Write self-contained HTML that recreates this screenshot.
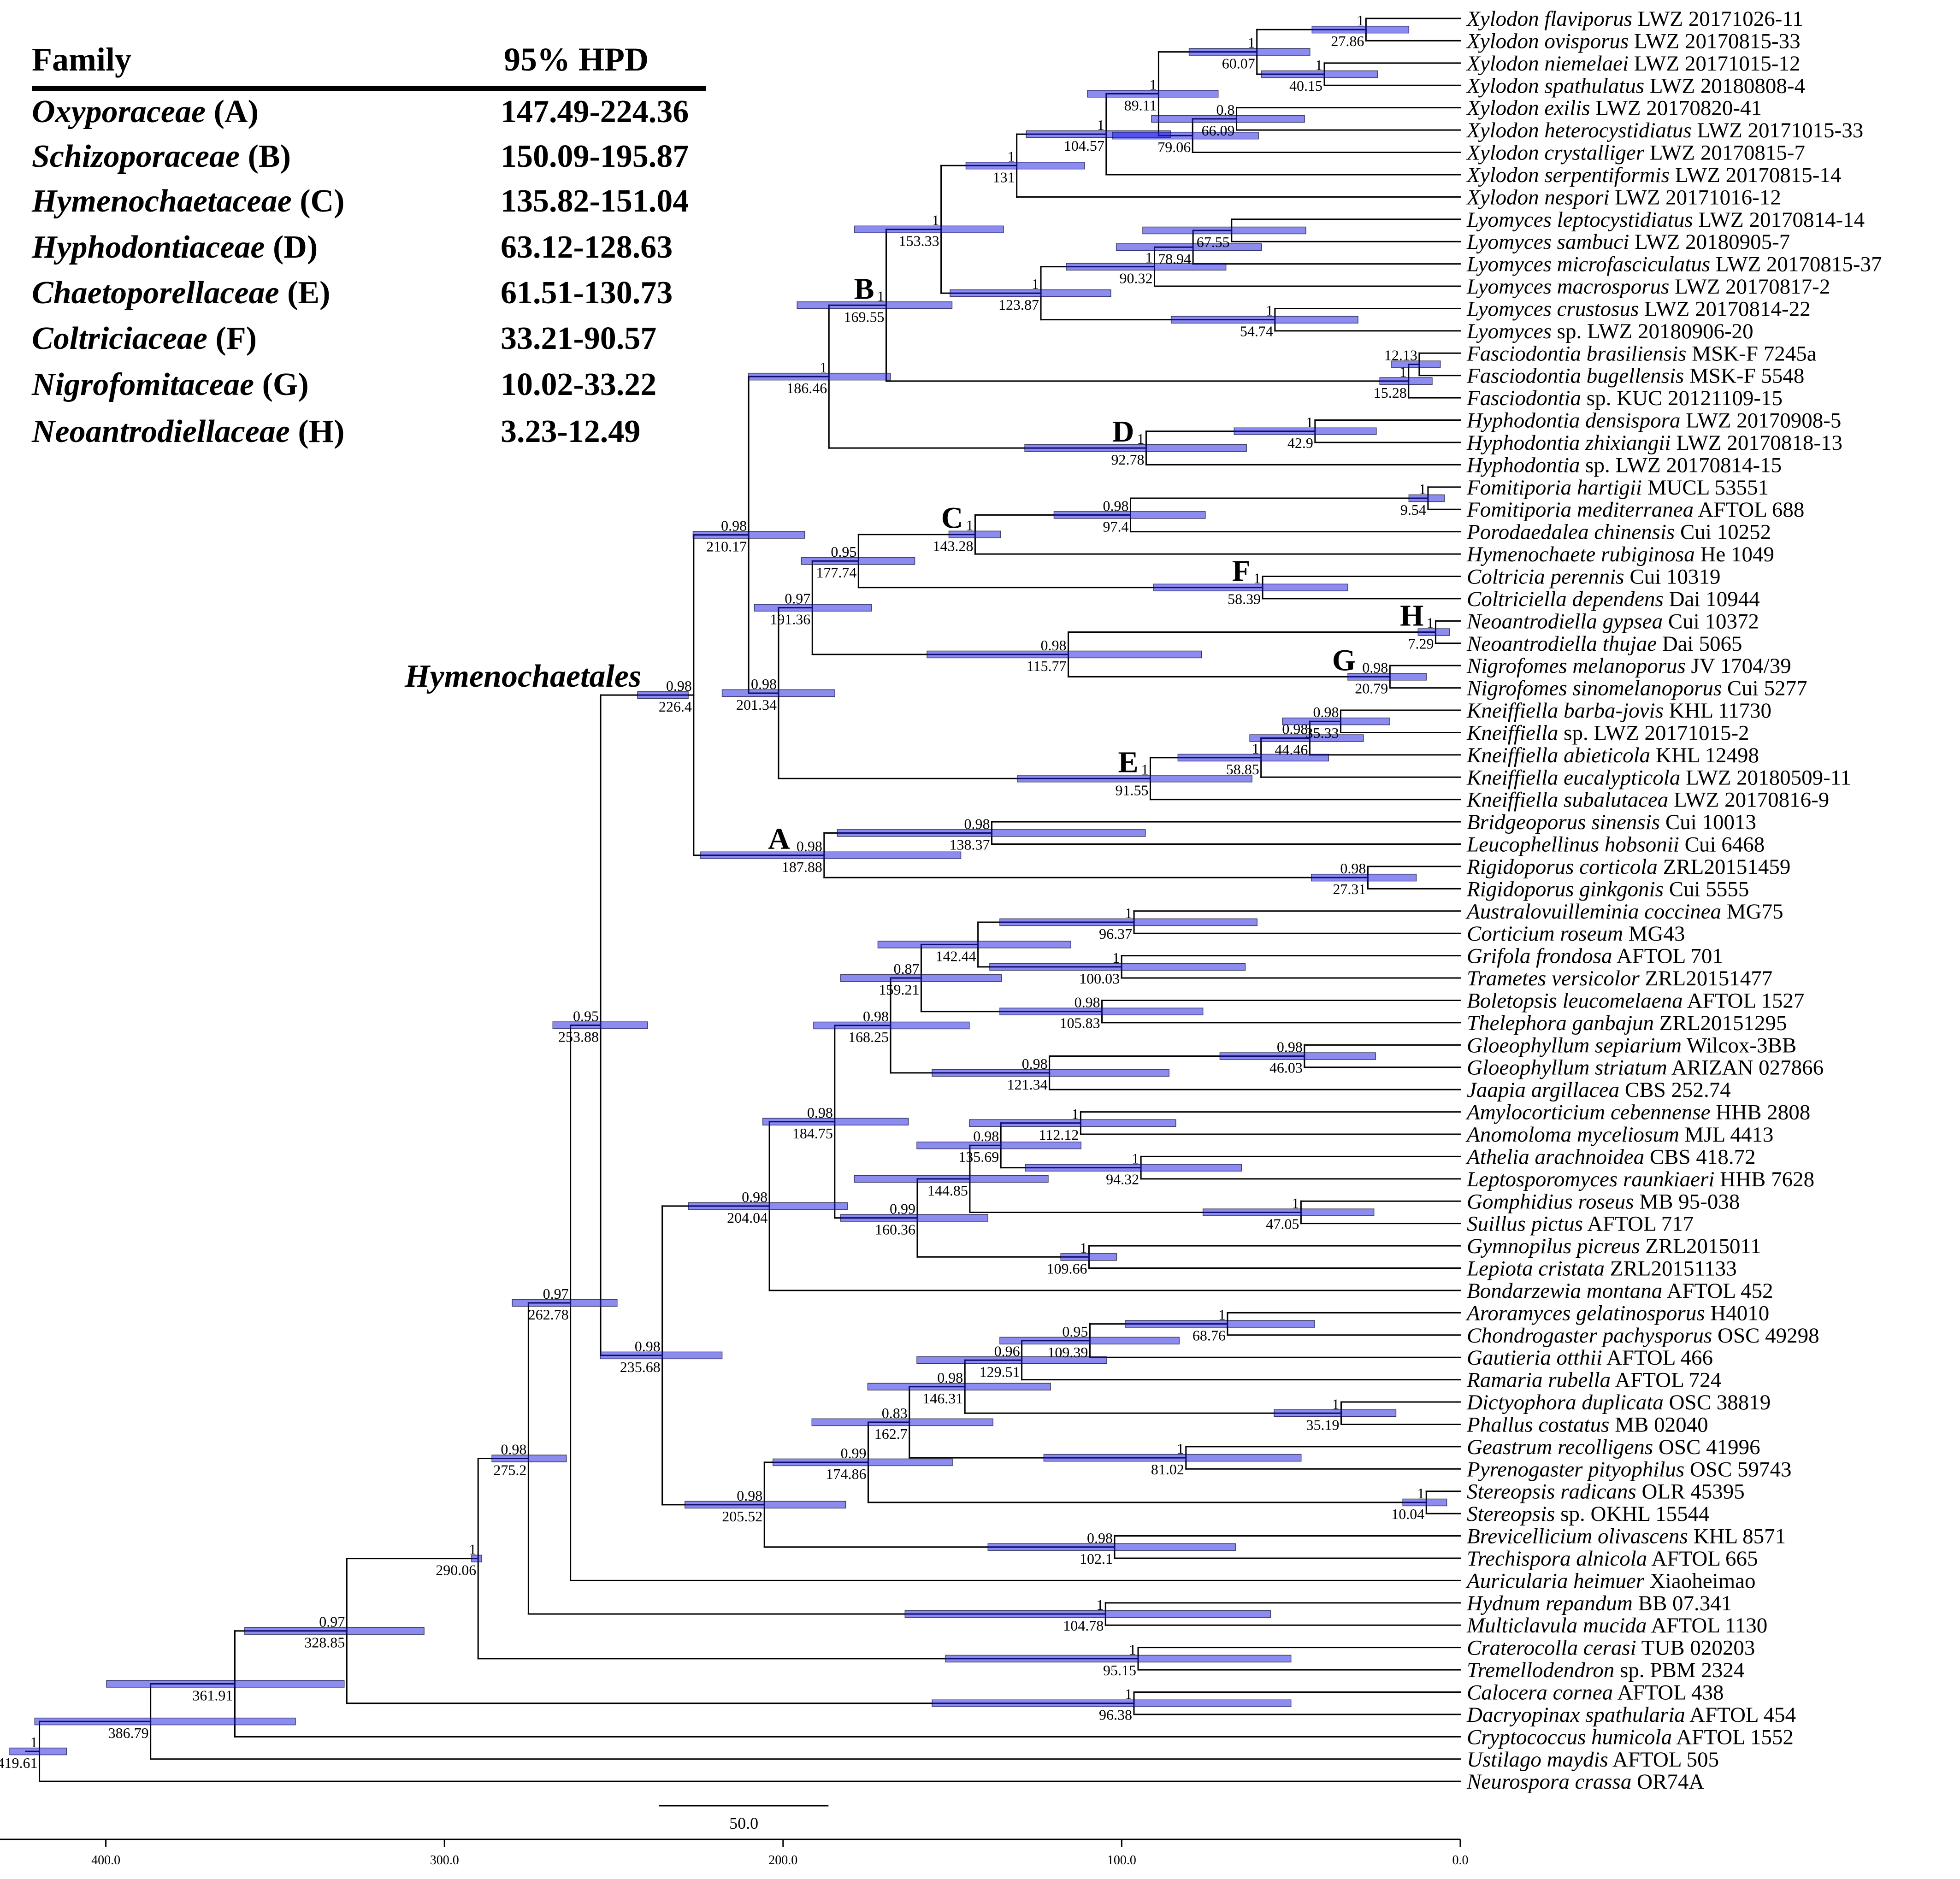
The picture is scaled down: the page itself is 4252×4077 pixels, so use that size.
<!DOCTYPE html>
<html><head><meta charset="utf-8"><title>Chronogram of Hymenochaetales</title>
<style>
html,body{margin:0;padding:0;background:#fff;}
svg{display:block;font-family:"Liberation Serif",serif;}
</style></head>
<body>
<svg id="chart" xmlns="http://www.w3.org/2000/svg" width="4252" height="4077" viewBox="0 0 4252 4077">
<g>
<text x="69" y="153" font-size="72" font-weight="bold">Family</text>
<text x="1093" y="153" font-size="72" font-weight="bold">95% HPD</text>
<rect x="69" y="186" width="1463" height="12" fill="#000"/>
</g>
<g id="tableRows"></g>
<g id="tree"></g>
<text x="878" y="1490" font-size="70" font-weight="bold" font-style="italic">Hymenochaetales</text>
<g id="axis"></g>
</svg>
<script>
// ---- Data ----
var familyNames = ["Oxyporaceae","Schizoporaceae","Hymenochaetaceae","Hyphodontiaceae","Chaetoporellaceae","Coltriciaceae","Nigrofomitaceae","Neoantrodiellaceae"];
var familyLetters = ["A","B","C","D","E","F","G","H"];
var familyHPD = ["147.49-224.36","150.09-195.87","135.82-151.04","63.12-128.63","61.51-130.73","33.21-90.57","10.02-33.22","3.23-12.49"];

var leafNames = [
"Xylodon flaviporus LWZ 20171026-11","Xylodon ovisporus LWZ 20170815-33","Xylodon niemelaei LWZ 20171015-12","Xylodon spathulatus LWZ 20180808-4",
"Xylodon exilis LWZ 20170820-41","Xylodon heterocystidiatus LWZ 20171015-33","Xylodon crystalliger LWZ 20170815-7","Xylodon serpentiformis LWZ 20170815-14",
"Xylodon nespori LWZ 20171016-12","Lyomyces leptocystidiatus LWZ 20170814-14","Lyomyces sambuci LWZ 20180905-7","Lyomyces microfasciculatus LWZ 20170815-37",
"Lyomyces macrosporus LWZ 20170817-2","Lyomyces crustosus LWZ 20170814-22","Lyomyces sp. LWZ 20180906-20","Fasciodontia brasiliensis MSK-F 7245a",
"Fasciodontia bugellensis MSK-F 5548","Fasciodontia sp. KUC 20121109-15","Hyphodontia densispora LWZ 20170908-5","Hyphodontia zhixiangii LWZ 20170818-13",
"Hyphodontia sp. LWZ 20170814-15","Fomitiporia hartigii MUCL 53551","Fomitiporia mediterranea AFTOL 688","Porodaedalea chinensis Cui 10252",
"Hymenochaete rubiginosa He 1049","Coltricia perennis Cui 10319","Coltriciella dependens Dai 10944","Neoantrodiella gypsea Cui 10372",
"Neoantrodiella thujae Dai 5065","Nigrofomes melanoporus JV 1704/39","Nigrofomes sinomelanoporus Cui 5277","Kneiffiella barba-jovis KHL 11730",
"Kneiffiella sp. LWZ 20171015-2","Kneiffiella abieticola KHL 12498","Kneiffiella eucalypticola LWZ 20180509-11","Kneiffiella subalutacea LWZ 20170816-9",
"Bridgeoporus sinensis Cui 10013","Leucophellinus hobsonii Cui 6468","Rigidoporus corticola ZRL20151459","Rigidoporus ginkgonis Cui 5555",
"Australovuilleminia coccinea MG75","Corticium roseum MG43","Grifola frondosa AFTOL 701","Trametes versicolor ZRL20151477",
"Boletopsis leucomelaena AFTOL 1527","Thelephora ganbajun ZRL20151295","Gloeophyllum sepiarium Wilcox-3BB","Gloeophyllum striatum ARIZAN 027866",
"Jaapia argillacea CBS 252.74","Amylocorticium cebennense HHB 2808","Anomoloma myceliosum MJL 4413","Athelia arachnoidea CBS 418.72",
"Leptosporomyces raunkiaeri HHB 7628","Gomphidius roseus MB 95-038","Suillus pictus AFTOL 717","Gymnopilus picreus ZRL2015011",
"Lepiota cristata ZRL20151133","Bondarzewia montana AFTOL 452","Aroramyces gelatinosporus H4010","Chondrogaster pachysporus OSC 49298",
"Gautieria otthii AFTOL 466","Ramaria rubella AFTOL 724","Dictyophora duplicata OSC 38819","Phallus costatus MB 02040",
"Geastrum recolligens OSC 41996","Pyrenogaster pityophilus OSC 59743","Stereopsis radicans OLR 45395","Stereopsis sp. OKHL 15544",
"Brevicellicium olivascens KHL 8571","Trechispora alnicola AFTOL 665","Auricularia heimuer Xiaoheimao","Hydnum repandum BB 07.341",
"Multiclavula mucida AFTOL 1130","Craterocolla cerasi TUB 020203","Tremellodendron sp. PBM 2324","Calocera cornea AFTOL 438",
"Dacryopinax spathularia AFTOL 454","Cryptococcus humicola AFTOL 1552","Ustilago maydis AFTOL 505","Neurospora crassa OR74A"];

var nodeAge = [419.61,386.79,361.91,328.85,290.06,96.38,275.2,95.15,262.78,104.78,
253.88,226.4,235.68,210.17,187.88,186.46,201.34,169.55,92.78,153.33,
15.28,131,123.87,104.57,89.11,60.07,79.06,27.86,40.15,66.09,
90.32,54.74,78.94,67.55,12.13,42.9,191.36,91.55,177.74,115.77,
143.28,58.39,97.4,9.54,7.29,20.79,58.85,44.46,35.33,138.37,
27.31,204.04,205.52,184.75,168.25,160.36,159.21,121.34,142.44,105.83,
96.37,100.03,46.03,144.85,109.66,135.69,47.05,112.12,94.32,174.86,
102.1,162.7,10.04,146.31,81.02,129.51,35.19,109.39,68.76];
var nodePP = ["1","","","0.97","1","1","0.98","1","0.97","1",
"0.95","0.98","0.98","0.98","0.98","1","0.98","1","1","1",
"1","1","1","1","1","1","","1","1","0.8",
"1","1","","","","1","0.97","1","0.95","0.98",
"1","1","0.98","1","1","0.98","1","0.98","0.98","0.98",
"0.98","0.98","0.98","0.98","0.98","0.99","0.87","0.98","","0.98",
"1","1","0.98","","1","0.98","1","1","1","0.99",
"0.98","0.83","1","0.98","1","0.96","1","0.95","1"];
var hpdHigh = [428.4,421,399.8,359,292,156,286,152,280,164,
268,243,254,226.6,224.36,210.2,218,195.87,128.63,178.9,
23.8,146,150.7,128.2,110.1,80.1,102.8,43.8,58.7,91.2,
116.4,85.4,101.6,93.8,20.3,66.8,208.5,130.73,194.6,157.5,
151.04,90.57,120,15.2,12.49,33.22,83.4,62.2,52.5,184,
44,228,229,206,191,183,183,156,172,136,
136,139,71,179,118,160.5,76,145,128.5,203,
139.5,191.5,17,175,123,160.5,55,136,99];
var hpdLow = [411.6,344,329.6,306,289,50,264,50,249,56,
240,228,218,193.6,147.49,168.3,184.7,150.09,63.12,134.9,
8.3,111,103.2,85.6,71.5,44.4,59.6,15.2,24.4,46,
69.2,30.2,58.7,45.6,5.9,24.8,173.9,61.51,161.1,76.4,
135.82,33.21,75.3,4.7,3.23,10.02,38.9,28.6,20.8,93,
13,181,181.5,163,145,139.5,135.5,86,115,76,
60,63.5,25,121.7,101.5,112,25.5,84,64.6,150,
66.4,138,4,121,47,104.4,19,83,43];
var nodeKids = [["N1","L79"],["N2","L78"],["N3","L77"],["N4","N5"],["N6","N7"],["L75","L76"],["N8","N9"],["L73","L74"],["N10","L70"],["L71","L72"],
[ "N11","N12"],["N13","N14"],["N51","N52"],["N15","N16"],["N49","N50"],["N17","N18"],["N36","N37"],["N19","N20"],["N35","L20"],["N21","N22"],
["N34","L17"],["N23","L8"],["N30","N31"],["N24","L7"],["N25","N26"],["N27","N28"],["N29","L6"],["L0","L1"],["L2","L3"],["L4","L5"],
["N32","L12"],["L13","L14"],["N33","L11"],["L9","L10"],["L15","L16"],["L18","L19"],["N38","N39"],["N46","L35"],["N40","N41"],["N44","N45"],
["N42","L24"],["L25","L26"],["N43","L23"],["L21","L22"],["L27","L28"],["L29","L30"],["N47","L34"],["N48","L33"],["L31","L32"],["L36","L37"],
["L38","L39"],["N53","L57"],["N69","N70"],["N54","N55"],["N56","N57"],["N63","N64"],["N58","N59"],["N62","L48"],["N60","N61"],["L44","L45"],
["L40","L41"],["L42","L43"],["L46","L47"],["N65","N66"],["L55","L56"],["N67","N68"],["L53","L54"],["L49","L50"],["L51","L52"],["N71","N72"],
["L68","L69"],["N73","N74"],["L66","L67"],["N75","N76"],["L64","L65"],["N77","L61"],["L62","L63"],["N78","L60"],["L58","L59"]];
var cladeNode = [14,17,40,18,37,41,45,44];
var cladeLetter = ["A","B","C","D","E","F","G","H"];
var ageLabelAbove = [34];
var axisTicks = [0,100,200,300,400];
var axisTickLabels = ["0.0","100.0","200.0","300.0","400.0"];
var scaleBarLength = [50];

// ---- Layout ----
var NS = "http://www.w3.org/2000/svg";
var X0 = 3168, PXU = 7.346, ROW0 = 40, ROWH = 48.42;
function xAge(a){ return X0 - PXU*a; }
function yRow(i){ return ROW0 + ROWH*i; }
function mk(tag, attrs, parent){ var e=document.createElementNS(NS,tag); for(var k in attrs) e.setAttribute(k,attrs[k]); parent.appendChild(e); return e; }

var tree = document.getElementById("tree");
var gLines = mk("g",{},tree);


var gBars = mk("g",{},tree);


var gLab = mk("g",{"font-size":"32"},tree);


var gLeaf = mk("g",{"font-size":"47"},tree);



var nodeY = {};
function yOf(ref){
  var t=ref[0], i=+ref.slice(1);
  if(t==="L") return yRow(i);
  if(nodeY[i]!==undefined) return nodeY[i];
  var ks=nodeKids[i], s=0;
  for(var j=0;j<ks.length;j++) s+=yOf(ks[j]);
  nodeY[i]=s/ks.length; return nodeY[i];
}
function xOf(ref){ return ref[0]==="L" ? xAge(0) : xAge(nodeAge[+ref.slice(1)]); }
var SW = 3;
for (var n=0;n<nodeAge.length;n++){
  var nx=xAge(nodeAge[n]), ny=yOf("N"+n), ks=nodeKids[n];
  var ys=ks.map(yOf);
  var v=mk("line",{x1:nx,x2:nx,y1:Math.min.apply(null,ys),y2:Math.max.apply(null,ys),stroke:"#000","stroke-width":SW,"stroke-linecap":"square"},gLines);
  
  
  for (var j=0;j<ks.length;j++){
    var h=mk("line",{x1:nx,x2:xOf(ks[j]),y1:ys[j],y2:ys[j],stroke:"#000","stroke-width":SW,"stroke-linecap":"square"},gLines);
    
    
  }
  var b=mk("rect",{x:xAge(hpdHigh[n]),y:ny-7.5,width:xAge(hpdLow[n])-xAge(hpdHigh[n]),height:15,fill:"rgb(25,25,225)","fill-opacity":"0.5",stroke:"rgba(0,0,40,0.7)","stroke-width":"1.5"},gBars);
  
  
  var above = ageLabelAbove.indexOf(n)>=0;
  if (nodePP[n]!==""){
    var p=mk("text",{x:nx-4,y:ny-9,"text-anchor":"end"},gLab); p.textContent=nodePP[n];
    
    
  }
  var a=mk("text",{x:nx-4,y:above?ny-9:ny+36,"text-anchor":"end"},gLab); a.textContent=String(nodeAge[n]);
  
  
}
var stub=mk("line",{x1:xAge(nodeAge[0])-31,x2:xAge(nodeAge[0]),y1:yOf("N0"),y2:yOf("N0"),stroke:"#000","stroke-width":SW},gLines);


for (var c=0;c<cladeNode.length;c++){
  var cn=cladeNode[c], pw=nodePP[cn].length*16+6;
  var t=mk("text",{x:xAge(nodeAge[cn])-4-pw,y:yOf("N"+cn)-14,"text-anchor":"end","font-size":"66","font-weight":"bold"},gLab);
  t.textContent=cladeLetter[c];
  
  
}
for (var i=0;i<leafNames.length;i++){
  var w=leafNames[i].split(" "), it, rest;
  if (w[1]==="sp."){ it=w[0]; rest=" "+w.slice(1).join(" "); } else { it=w[0]+" "+w[1]; rest=" "+w.slice(2).join(" "); }
  var tx=mk("text",{x:3182,y:yRow(i)+16},gLeaf);
  
  
  var s1=mk("tspan",{"font-style":"italic"},tx); s1.textContent=it;
  var s2=mk("tspan",{},tx); s2.textContent=rest;
  s2.setAttribute("xml:space","preserve");
}
var tr=document.getElementById("tableRows");
var rowBase=[265,362,459,559,658,757,857,959];
for (var r=0;r<familyNames.length;r++){
  var ft=mk("text",{x:69,y:rowBase[r],"font-size":"70","font-weight":"bold"},tr);
  
  
  var f1=mk("tspan",{"font-style":"italic"},ft); f1.textContent=familyNames[r];
  var f2=mk("tspan",{},ft); f2.textContent=" ("+familyLetters[r]+")";
  var vt=mk("text",{x:1086,y:rowBase[r],"font-size":"70","font-weight":"bold"},tr);
  vt.textContent=familyHPD[r];
  
  
}
var ax=document.getElementById("axis");
var al=mk("line",{x1:0,x2:X0,y1:3991,y2:3991,stroke:"#000","stroke-width":3},ax);


for (var k=0;k<axisTicks.length;k++){
  var tk=mk("line",{x1:xAge(axisTicks[k]),x2:xAge(axisTicks[k]),y1:3991,y2:4008,stroke:"#000","stroke-width":3},ax);
  
  
  var tl=mk("text",{x:xAge(axisTicks[k]),y:4045,"text-anchor":"middle","font-size":"28"},ax);
  tl.textContent=axisTickLabels[k];
  
  
}
var sbx=1430;
var sb=mk("line",{x1:sbx,x2:sbx+PXU*scaleBarLength[0],y1:3918,y2:3918,stroke:"#000","stroke-width":3},ax);


var sbt=mk("text",{x:sbx+PXU*scaleBarLength[0]/2,y:3968,"text-anchor":"middle","font-size":"36"},ax);
sbt.textContent=scaleBarLength[0].toFixed(1);


</script>
</body></html>
